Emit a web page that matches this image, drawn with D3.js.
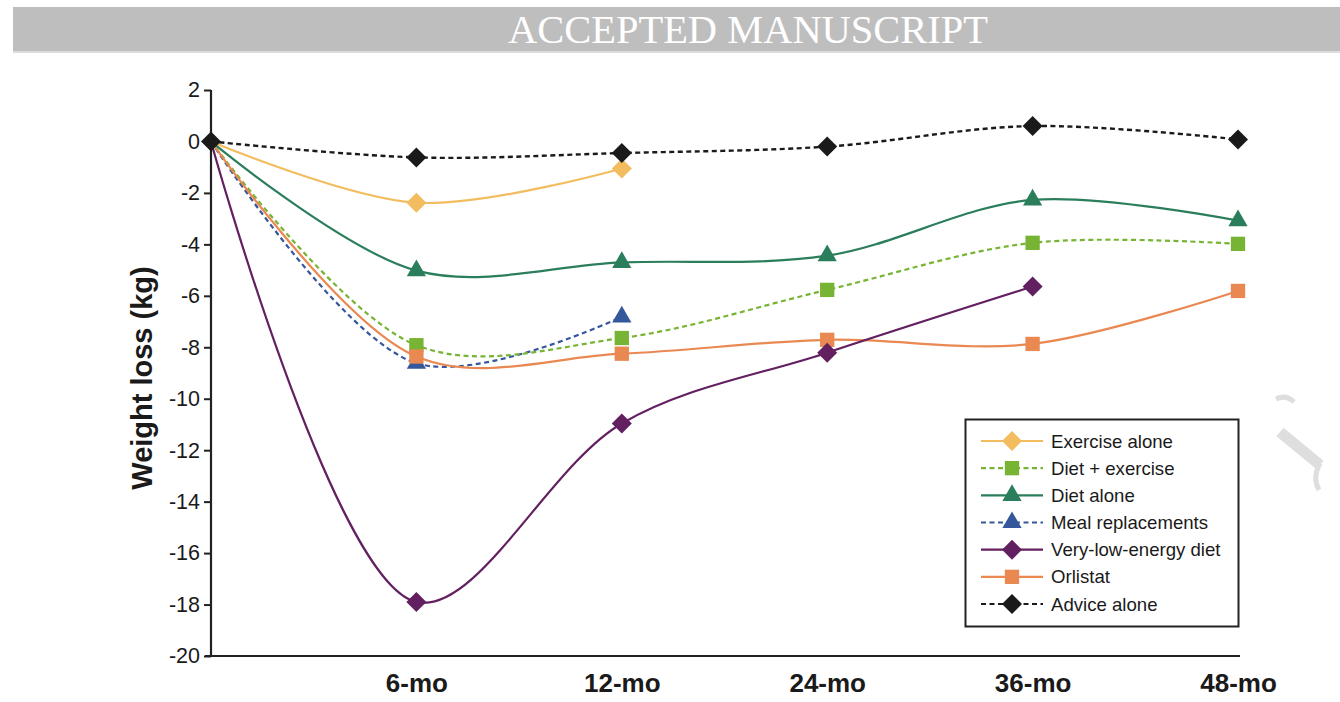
<!DOCTYPE html>
<html>
<head>
<meta charset="utf-8">
<script src="https://cdn.jsdelivr.net/npm/d3@7"></script>
<style>
  html, body { margin: 0; padding: 0; background: #fff; }
  svg { display: block; }
</style>
</head>
<body>
<svg id="chart" width="1340" height="702"></svg>
<script>
// ---- Data ----
const categories = ["0", "6-mo", "12-mo", "24-mo", "36-mo", "48-mo"];
const tickLabels = ["", "6-mo", "12-mo", "24-mo", "36-mo", "48-mo"];
const yTicks = [2, 0, -2, -4, -6, -8, -10, -12, -14, -16, -18, -20];

const seriesNames = ["Exercise alone", "Diet + exercise", "Diet alone", "Meal replacements",
                     "Very-low-energy diet", "Orlistat", "Advice alone"];
const exerciseAlone   = [0, -2.38, -1.05, null, null, null];
const dietExercise    = [0, -7.92, -7.64, -5.77, -3.94, -3.98];
const dietAlone       = [0, -5.02, -4.70, -4.44, -2.27, -3.08];
const mealReplacement = [0, -8.62, -6.82, null, null, null];
const vled            = [0, -17.9, -10.96, -8.21, -5.64, null];
const orlistat        = [0, -8.36, -8.25, -7.71, -7.87, -5.81];
const adviceAlone     = [0, -0.62, -0.45, -0.20, 0.60, 0.08];

const seriesValues = [exerciseAlone, dietExercise, dietAlone, mealReplacement, vled, orlistat, adviceAlone];
const seriesColors = ["#f2bc5f", "#77b433", "#2a7e5b", "#35579b", "#632061", "#ea8852", "#1a1a1a"];
const seriesDash   = [null, "5,3.5", null, "5,3.5", null, null, "5,3.5"];
const seriesSymbol = ["diamond", "square", "triangle", "triangle", "diamond", "square", "diamond"];
// draw order (index into series)
const drawOrder = [3, 1, 5, 2, 0, 4, 6];

// ---- Layout ----
const svg = d3.select("#chart");

// Banner
svg.append("rect").attr("x", 13).attr("y", 7).attr("width", 1327).attr("height", 44).attr("fill", "#bebebe");
svg.append("rect").attr("x", 13).attr("y", 51).attr("width", 1327).attr("height", 2).attr("fill", "#dcdcdc");
svg.append("text")
  .attr("x", 748).attr("y", 43)
  .attr("text-anchor", "middle")
  .attr("font-family", "'Liberation Serif', 'DejaVu Serif', serif")
  .attr("font-size", 41)
  .attr("fill", "#ffffff")
  .attr("textLength", 480)
  .attr("lengthAdjust", "spacingAndGlyphs")
  .text("ACCEPTED MANUSCRIPT");

// faint watermark fragment (shape only)
const wm = svg.append("g").attr("fill", "none").attr("stroke", "#dedede").attr("stroke-linecap", "butt");
wm.append("path").attr("d", "M1276,399 Q1286,394 1294,402").attr("stroke-width", 5);
wm.append("path").attr("d", "M1280,432 L1320,465").attr("stroke-width", 11);
wm.append("path").attr("d", "M1320,463 Q1312,478 1319,490").attr("stroke-width", 5);

const x = d3.scalePoint().domain(categories).range([211, 1238]);
const y = d3.scaleLinear().domain([-20, 2]).range([656, 90]);

// Y axis
const yAxis = d3.axisLeft(y).tickValues(yTicks).tickSize(7).tickPadding(4).tickFormat(d => d);
const gy = svg.append("g").attr("transform", "translate(211,0)").call(yAxis);
gy.select(".domain").attr("stroke", "#222").attr("stroke-width", 2.2).attr("d", `M0,${y(2)}V${y(-20)}`);
gy.selectAll(".tick line").attr("stroke", "#222").attr("stroke-width", 2);
gy.selectAll(".tick text")
  .attr("font-family", "'Liberation Sans', Arial, sans-serif")
  .attr("font-size", 21.5)
  .attr("fill", "#1a1a1a");

// X axis
const xAxis = d3.axisBottom(x).tickSize(0).tickPadding(18).tickFormat((d, i) => tickLabels[i]);
const gx = svg.append("g").attr("transform", `translate(0,${y(-20)})`).call(xAxis);
gx.select(".domain").attr("stroke", "#222").attr("stroke-width", 2.2).attr("d", "M205,0H1240");
gx.selectAll(".tick text")
  .attr("font-family", "'Liberation Sans', Arial, sans-serif")
  .attr("font-weight", "bold")
  .attr("font-size", 26)
  .attr("fill", "#1a1a1a");

// Y label
svg.append("text")
  .attr("transform", "translate(152,378) rotate(-90)")
  .attr("text-anchor", "middle")
  .attr("font-family", "'Liberation Sans', Arial, sans-serif")
  .attr("font-weight", "bold")
  .attr("font-size", 29)
  .attr("fill", "#1a1a1a")
  .text("Weight loss (kg)");

// symbol helper
function symbolPath(kind) {
  if (kind === "diamond") return d3.symbol().type(d3.symbolSquare).size(200)();
  if (kind === "square") return d3.symbol().type(d3.symbolSquare).size(205)();
  return d3.symbol().type(d3.symbolTriangle).size(160)();
}
function symbolTransform(kind, px, py) {
  if (kind === "diamond") return `translate(${px},${py}) rotate(45)`;
  return `translate(${px},${py})`;
}

const line = d3.line()
  .defined(d => d.v !== null)
  .x(d => x(d.c))
  .y(d => y(d.v))
  .curve(d3.curveCatmullRom.alpha(0.5));

const plot = svg.append("g");
drawOrder.forEach(si => {
  const pts = categories.map((c, i) => ({ c, v: seriesValues[si][i] })).filter(d => d.v !== null);
  plot.append("path")
    .datum(pts)
    .attr("d", line)
    .attr("fill", "none")
    .attr("stroke", seriesColors[si])
    .attr("stroke-width", si === 6 ? 2.4 : 2.2)
    .attr("stroke-dasharray", seriesDash[si]);
});
drawOrder.forEach(si => {
  const pts = categories.map((c, i) => ({ c, v: seriesValues[si][i] })).filter(d => d.v !== null);
  plot.selectAll(null)
    .data(si === 6 ? pts : pts.filter(d => d.c !== "0"))
    .enter().append("path")
    .attr("d", symbolPath(seriesSymbol[si]))
    .attr("transform", d => symbolTransform(seriesSymbol[si], x(d.c), y(d.v)))
    .attr("fill", seriesColors[si]);
});

// Legend
const lg = svg.append("g");
lg.append("rect").attr("x", 965.5).attr("y", 419.5).attr("width", 273).attr("height", 207)
  .attr("fill", "#fff").attr("stroke", "#222").attr("stroke-width", 2);
const legendY = d3.scalePoint().domain(seriesNames).range([441, 604]);
seriesNames.forEach((name, si) => {
  const ly = legendY(name);
  lg.append("line").attr("x1", 981).attr("x2", 1043).attr("y1", ly).attr("y2", ly)
    .attr("stroke", seriesColors[si]).attr("stroke-width", 2.2)
    .attr("stroke-dasharray", seriesDash[si]);
  lg.append("path").attr("d", symbolPath(seriesSymbol[si]))
    .attr("transform", symbolTransform(seriesSymbol[si], 1012, ly))
    .attr("fill", seriesColors[si]);
  lg.append("text").attr("x", 1051).attr("y", ly).attr("dy", "0.35em")
    .attr("font-family", "'Liberation Sans', Arial, sans-serif")
    .attr("font-size", 18.6)
    .attr("fill", "#1a1a1a")
    .text(name);
});
</script>
</body>
</html>
